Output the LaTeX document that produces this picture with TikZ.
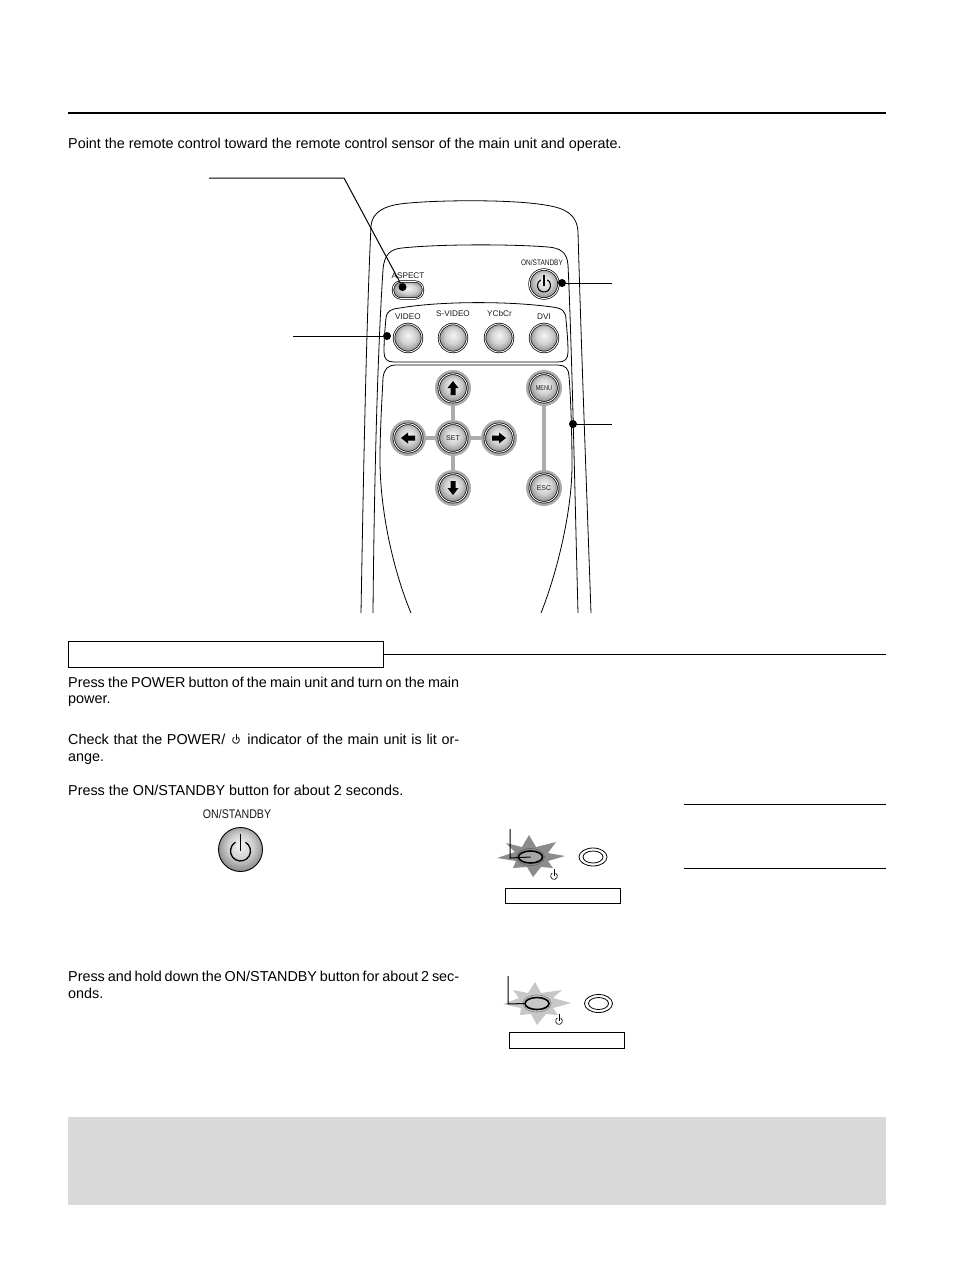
\documentclass[tikz,border=0pt]{standalone}
\usepackage{fontspec}
\usetikzlibrary{shapes.geometric}
\setmainfont{Liberation Sans}
\pgfdeclareradialshading{btnball}{\pgfpoint{0bp}{5bp}}{color(0bp)=(black!4); color(14bp)=(black!18); color(28bp)=(black!48); color(40bp)=(black!65); color(50bp)=(black!65)}
\newcommand{\bodyt}[3]{\node[bodytext] (#1) at #2 {#3};}
\newcommand{\justt}[3]{\node[bodytext] (#1) at #2 {\hbox to 391pt{#3}};}
\newcommand{\rbtn}[2]{\node[halo] (#1h) at #2 {};}
\newcommand{\rface}[3]{\node[face] (#1) at #2 {\fontsize{7}{8}\selectfont\color{black!90}#3};}
% power symbol: x, y of ring centre, radius in pt, stem top y, line width
\newcommand{\pwr}[5]{%
  \draw[line width=#5] (#1,#2) ++(60:#3pt) arc[start angle=60,end angle=-240,radius=#3pt];
  \draw[line width=#5] (#1,#2) -- (#1,#4);
}
\begin{document}
\begin{tikzpicture}[x=1pt,y=-1pt,
  bodytext/.style={anchor=base west,inner sep=0pt,font=\fontsize{14.37}{16}\selectfont},
  small/.style={inner sep=0pt,font=\fontsize{8.2}{9}\selectfont,text=black!90},
  outl/.style={line width=.8pt},
  halo/.style={circle,fill=black!33,minimum size=36pt,inner sep=0pt},
  glink/.style={line width=4.5pt,draw=black!33},
  face/.style={circle,draw=black,line width=.7pt,double=white,double distance=.9pt,shading=btnball,minimum size=28.5pt,inner sep=0pt},
  panelbtn/.style={face,minimum size=28pt},
  pip/.style={circle,fill=black,minimum size=8pt,inner sep=0pt},
  lead/.style={line width=1pt},
  arrowglyph/.style={fill=black,draw=none},
  ledon/.style={draw=black,line width=1.6pt},
  ledoff/.style={draw=black,line width=.8pt,fill=white}]
\useasboundingbox (0,0) rectangle (954,1274);
\fill[white] (0,0) rectangle (954,1274);
% header
\draw[line width=2pt] (68,113) -- (886,113);
\bodyt{intro}{(68,148)}{Point the remote control toward the remote control sensor of the main unit and operate.}
% remote outlines
\draw[outl] (361,613) .. controls (363,500) and (366,330) .. (371,226)
  .. controls (372,212) and (385,206) .. (400,204)
  .. controls (430,200) and (510,199) .. (545,205)
  .. controls (565,208) and (577,214) .. (578,232)
  .. controls (581,340) and (587,500) .. (591,613);
\draw[outl] (373,613) .. controls (374,500) and (377,360) .. (383,270)
  .. controls (384,253) and (392,249) .. (402,248)
  .. controls (440,244) and (510,244) .. (548,247)
  .. controls (560,248) and (567,252) .. (568,265)
  .. controls (572,350) and (575,500) .. (578,613);
\draw[outl] (384,352) .. controls (384,340) and (385,328) .. (386,318)
  .. controls (387,310) and (392,309) .. (400,308)
  .. controls (440,301) and (510,301) .. (552,307)
  .. controls (562,308) and (566,311) .. (566,320)
  .. controls (567,330) and (568,342) .. (568,352)
  .. controls (568,359) and (565,362) .. (558,362)
  -- (394,362) .. controls (387,362) and (384,359) .. (384,352);
\draw[outl] (411,613) .. controls (393,570) and (380,510) .. (380,460)
  .. controls (380,430) and (382,400) .. (383,378)
  .. controls (384,369) and (388,365) .. (396,365)
  -- (558,365) .. controls (565,365) and (569,369) .. (569,376)
  .. controls (571,400) and (572,440) .. (572,465)
  .. controls (572,510) and (558,570) .. (541,613);
% aspect
\node[draw=black,line width=.7pt,double=white,double distance=.8pt,rounded corners=8pt,minimum width=30pt,minimum height=17pt,inner sep=0pt,shading=btnball] (aspect) at (408,290) {};
\node[small] (aspectl) at (408,276) {ASPECT};
\node[pip] (aspectpip) at (402.5,287) {};
\coordinate (aspectfar) at (209,178);
\coordinate (aspectknee) at (344,178);
\draw[lead] (aspectfar) -- (aspectknee) -- (aspectpip);
% power
\node[panelbtn,minimum size=29pt] (power) at (544,284) {};
\pwr{544}{285.5}{6.5}{275}{1.1pt}
\node[small] (powerl) at (542,262.5) {\scalebox{.81}[1]{\fontsize{8}{9}\selectfont ON/STANDBY}};
\node[pip] (powerpip) at (562,283) {};
\coordinate (powerfar) at (612,283);
\draw[lead] (powerpip) -- (powerfar);
% input row
\node[panelbtn] (video) at (408,338) {};
\node[panelbtn] (svideo) at (453,338) {};
\node[panelbtn] (ycbcr) at (499,338) {};
\node[panelbtn] (dvi) at (544,338) {};
\node[small] (videol) at (408,316.5) {VIDEO};
\node[small] (svideol) at (453,313.5) {S-VIDEO};
\node[small] (ycbcrl) at (499.5,313.5) {YCbCr};
\node[small] (dvil) at (544,316.5) {DVI};
\node[pip] (videopip) at (387,336) {};
\coordinate (videofar) at (293,336);
\draw[lead] (videopip) -- (videofar);
% lower cluster
\rbtn{up}{(453,388)}
\rbtn{left}{(408,438)}
\rbtn{set}{(453,438)}
\rbtn{right}{(499,438)}
\rbtn{down}{(453,488)}
\rbtn{menu}{(544,388)}
\rbtn{esc}{(544,488)}
\draw[glink] (uph) -- (seth);
\draw[glink] (downh) -- (seth);
\draw[glink] (lefth) -- (seth);
\draw[glink] (righth) -- (seth);
\draw[glink] (menuh) -- (esch);
\rface{up}{(453,388)}{}
\rface{left}{(408,438)}{}
\rface{set}{(453,438)}{SET}
\rface{right}{(499,438)}{}
\rface{down}{(453,488)}{}
\rface{menu}{(544,388)}{\scalebox{.8}[1]{MENU}}
\rface{esc}{(544,488)}{ESC}
\fill[arrowglyph] (453,381) -- (458.5,388) -- (455.5,388) -- (455.5,395) -- (450.5,395) -- (450.5,388) -- (447.5,388) -- cycle;
\fill[arrowglyph] (453,495) -- (458.5,488) -- (455.5,488) -- (455.5,481) -- (450.5,481) -- (450.5,488) -- (447.5,488) -- cycle;
\fill[arrowglyph] (401,438) -- (408,432.5) -- (408,435.5) -- (415,435.5) -- (415,440.5) -- (408,440.5) -- (408,443.5) -- cycle;
\fill[arrowglyph] (506,438) -- (499,432.5) -- (499,435.5) -- (492,435.5) -- (492,440.5) -- (499,440.5) -- (499,443.5) -- cycle;
\node[pip] (navpip) at (573,424) {};
\coordinate (navfar) at (612,424);
\draw[lead] (navpip) -- (navfar);
% section bar
\node[draw=black,line width=.9pt,minimum width=315pt,minimum height=26pt,inner sep=0pt,anchor=north west] (sect) at (68,641) {};
\coordinate (sectend) at (886,654.5);
\draw[line width=.9pt] (sect.east |- sectend) -- (sectend);
% left column
\justt{t1}{(68,687)}{Press the POWER button of the main unit and turn on the main}
\bodyt{t1b}{(68,703)}{power.}
\justt{t2}{(68,744)}{Check that the POWER/\hskip 21pt plus 3pt minus 2pt indicator of the main unit is lit or-}
\pwr{236}{740}{3.4}{734}{.8pt}
\bodyt{t2b}{(68,761)}{ange.}
\bodyt{t3}{(68,795)}{Press the ON/STANDBY button for about 2 seconds.}
\node[inner sep=0pt,font=\fontsize{12.5}{14}\selectfont,text=black!90] (bigl) at (237,814) {\scalebox{.85}[1]{ON/STANDBY}};
\node[circle,draw=black,line width=.9pt,shading=btnball,minimum size=44pt,inner sep=0pt] (bigbtn) at (240.5,849.5) {};
\pwr{240.5}{851}{10}{834}{1.3pt}
\justt{t4}{(68,981)}{Press and hold down the ON/STANDBY button for about 2 sec-}
\bodyt{t4b}{(68,998)}{onds.}
% rules right
\coordinate (r1a) at (684,804); \coordinate (r1b) at (886,804);
\coordinate (r2a) at (684,868); \coordinate (r2b) at (886,868);
\draw[line width=.9pt] (r1a) -- (r1b);
\draw[line width=.9pt] (r2a) -- (r2b);
% indicator 1
\fill[black!45] (529,835) -- (536,847) -- (556,842) -- (548,853) -- (565,856) -- (548,861) -- (553,868) -- (541,867) -- (533,877) -- (527,867) -- (513,868) -- (516,861) -- (497,858) -- (515,852) -- (506,843) -- (522,847) -- cycle;
\draw[black!60,line width=.6pt] (530.5,857) ellipse[x radius=14,y radius=8.5];
\node[ellipse,ledon,fill=black!35,minimum width=24pt,minimum height=12pt,inner sep=0pt] (led1) at (530.5,857) {};
\node[ellipse,ledoff,minimum width=28pt,minimum height=18pt,inner sep=0pt] (off1o) at (593,857) {};
\node[ellipse,ledoff,minimum width=20pt,minimum height=12pt,inner sep=0pt] (off1) at (593,857) {};
\coordinate (c1a) at (510,829); \coordinate (c1b) at (510,858);
\draw[line width=1pt] (c1a) -- (c1b) -- (led1.center);
\pwr{554}{876}{3.4}{869}{.6pt}
\node[draw=black,line width=1pt,minimum width=114.5pt,minimum height=15.5pt,inner sep=0pt,anchor=north west] (s1) at (505,887.5) {};
% indicator 2
\fill[black!22] (535,982) -- (541,993) -- (562,990) -- (553,998) -- (571,1003) -- (553,1008) -- (558,1015) -- (546,1014) -- (537,1025) -- (531,1014) -- (520,1015) -- (521,1008) -- (503,1004) -- (519,998) -- (513,990) -- (528,993) -- cycle;
\draw[black!50,line width=.6pt] (537,1003.5) ellipse[x radius=14,y radius=8.5];
\node[ellipse,ledon,fill=black!22,minimum width=24pt,minimum height=12pt,inner sep=0pt] (led2) at (537,1003.5) {};
\node[ellipse,ledoff,minimum width=28pt,minimum height=18pt,inner sep=0pt] (off2o) at (598.5,1003.5) {};
\node[ellipse,ledoff,minimum width=20pt,minimum height=12pt,inner sep=0pt] (off2) at (598.5,1003.5) {};
\coordinate (c2a) at (508,976); \coordinate (c2b) at (508,1004);
\draw[line width=1pt] (c2a) -- (c2b) -- (led2.west);
\pwr{559}{1021}{3.4}{1014}{.6pt}
\node[draw=black,line width=1pt,minimum width=115pt,minimum height=16pt,inner sep=0pt,anchor=north west] (s2) at (509,1032) {};
% footer band
\fill[black!15] (68,1117) rectangle (886,1205);
\end{tikzpicture}
\end{document}
